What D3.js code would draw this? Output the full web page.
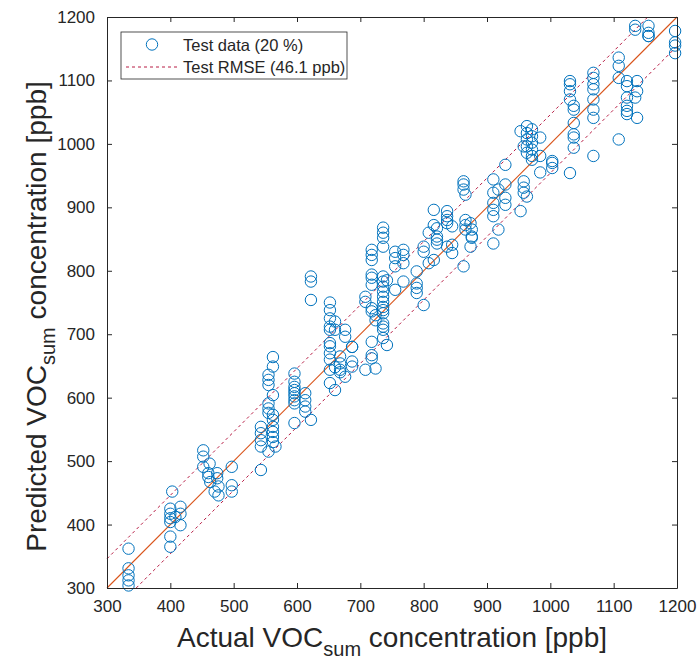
<!DOCTYPE html>
<html lang="en">
<head>
<meta charset="UTF-8"/>
<title>Predicted vs actual VOC</title>
<script type="text/javascript" src="https://d3js.org/d3.v7.min.js"></script>
<style>
    body { margin: 0; background: #fff; }
    text { font-family: "Liberation Sans", Arial, Helvetica, sans-serif; fill: #262626; }
</style>
</head>
<body>
<script type="text/javascript">

// actual (x) and predicted (y) values of the test points, read column by column
var actual = [
    334, 334, 334, 334, 334,
    403, 400, 400, 400, 400, 400, 400, 416, 416, 416, 408,
    452, 452, 452, 462, 460, 460, 463, 474, 474, 476, 476, 497, 497, 497, 470,
    543, 543, 543, 543, 543,
    555, 555, 555, 555, 555, 555, 555,
    562, 562, 562, 562, 562, 562, 562, 562, 562, 566,
    596, 596, 596, 596, 596, 596, 596, 596, 596,
    613, 613, 613, 613,
    622, 622, 622, 622,
    652, 652, 652, 652, 652, 652, 652, 652, 652, 652, 652,
    660, 660, 660, 660,
    668, 668, 668, 668,
    676, 676, 676,
    687, 687, 687, 687,
    708, 708, 708,
    718, 718, 718, 718, 718, 718, 718, 718, 718, 718, 718,
    724, 724, 724,
    736, 736, 736, 736, 736, 736, 736, 736, 736, 736, 736, 736, 736, 736, 736, 736, 736,
    742, 742,
    755, 755, 755, 755,
    768, 768, 768, 768,
    789, 789, 789, 789,
    800, 800, 800,
    808, 808,
    816, 816, 816,
    821, 821, 821, 821,
    837, 837, 837, 837, 837,
    845, 845, 845,
    863, 863, 863, 863,
    866, 866, 866, 866,
    874, 874, 876, 876, 876,
    910, 910, 910, 910, 910, 910,
    918, 918,
    929, 929, 929, 929,
    953, 953,
    958, 958, 958, 958,
    963, 963, 963, 963, 963, 963,
    971, 971, 971, 971, 971, 971,
    984, 984, 984,
    1003, 1003, 1003,
    1031, 1031, 1031, 1031, 1031,
    1037, 1037, 1037, 1037, 1037, 1037,
    1068, 1068, 1068, 1068, 1068, 1068, 1068, 1068,
    1108, 1108, 1108, 1108,
    1121, 1121, 1121, 1121, 1121, 1121,
    1137, 1137, 1137,
    1134, 1134, 1134,
    1155, 1155, 1155, 1155,
    1197, 1197, 1197, 1197
];
var predicted = [
    362, 331, 320, 312, 304,
    452, 425, 417, 410, 404, 381, 365, 428, 417, 399, 412,
    517, 491, 507, 496, 481, 475, 467, 473, 481, 460, 446, 452, 491, 462, 452, 486,
    554, 544, 533, 523, 515,
    636, 628, 620, 591, 583, 576, 565,
    664, 649, 604, 573, 554, 546, 538, 530, 523, 560,
    638, 625, 617, 612, 607, 602, 591, 596, 586,
    607, 596, 578, 565,
    791, 783, 754, 750,
    738, 725, 712, 707, 686, 681, 670, 660, 644, 623, 612,
    720, 707, 648, 640,
    665, 654, 644, 633,
    707, 696, 680,
    680, 657, 649, 644,
    759, 751, 736,
    833, 825, 817, 794, 789, 778, 741, 688, 667, 662, 646,
    730, 722, 712,
    868, 860, 852, 838, 791, 783, 775, 767, 759, 751, 743, 738, 733, 717, 707, 694, 683,
    785, 770,
    830, 820, 807, 783,
    833, 825, 812, 799,
    780, 773, 765, 746,
    838, 830, 812,
    860, 817,
    896, 872, 867,
    854, 849, 843, 838,
    894, 886, 880, 875, 870,
    841, 828, 807,
    941, 936, 928, 920,
    880, 872, 865, 838,
    875, 852, 865, 854, 843,
    944, 923, 907, 896, 886, 865,
    928, 915,
    967, 936, 904, 894,
    1020, 996,
    941, 931, 923, 917,
    1028, 1017, 1007, 996, 986, 975,
    1023, 1012, 1002, 991, 981, 955,
    1010, 981, 970,
    973, 962, 954,
    1099, 1094, 1083, 1070, 1060,
    1054, 1033, 1015, 1010, 994, 981,
    1112, 1104, 1094, 1086, 1070, 1054, 1041, 1007,
    1136, 1123, 1104, 1099,
    1091, 1073, 1060, 1052, 1047, 1041,
    1099, 1083, 1073,
    1186, 1180, 1170,
    1186, 1175, 1170, 1143,
    1178, 1160, 1155, 1133
];
var ticks = [300, 400, 500, 600, 700, 800, 900, 1000, 1100, 1200];
var rmse = 46.1;
var legendLabels = ["Test data (20 %)", "Test RMSE (46.1 ppb)"];

var data = actual.map(function (a, i) { return [a, predicted[i]]; });

var W = 697, H = 663;
var margin = {top: 17, right: 20, bottom: 75, left: 107};
var width = W - margin.left - margin.right,
    height = H - margin.top - margin.bottom;

var x = d3.scaleLinear().domain([300, 1200]).range([0, width]);
var y = d3.scaleLinear().domain([300, 1200]).range([height, 0]);
var fmt = d3.format("d");
var rmseColor = "#B81D45";

var svg = d3.select("body").append("svg")
    .attr("width", W)
    .attr("height", H);

var main = svg.append("g")
    .attr("transform", "translate(" + margin.left + "," + margin.top + ")");

var plot = main.append("g");

// 1:1 line
plot.append("line")
    .attr("x1", x(300)).attr("y1", y(300))
    .attr("x2", x(1200)).attr("y2", y(1200))
    .attr("stroke", "#D95319")
    .attr("stroke-width", 1.1);

// +/- RMSE lines, cut to the axes box
var rmseLines = [
    [[300, 300 + rmse], [1200 - rmse, 1200]],
    [[300 + rmse, 300], [1200, 1200 - rmse]]
];
plot.selectAll("line.rmse")
    .data(rmseLines)
    .enter().append("line")
    .attr("class", "rmse")
    .attr("x1", function (d) { return x(d[0][0]); })
    .attr("y1", function (d) { return y(d[0][1]); })
    .attr("x2", function (d) { return x(d[1][0]); })
    .attr("y2", function (d) { return y(d[1][1]); })
    .attr("stroke", rmseColor)
    .attr("stroke-width", 1)
    .attr("stroke-dasharray", "3,3");

plot.selectAll("circle.pt")
    .data(data)
    .enter().append("circle")
    .attr("class", "pt")
    .attr("cx", function (d) { return x(d[0]); })
    .attr("cy", function (d) { return y(d[1]); })
    .attr("r", 5.7)
    .attr("fill", "none")
    .attr("stroke", "#0072BD")
    .attr("stroke-width", 1);

// axes, ticks pointing inside, box on all four sides
function styleAxis(g) {
    g.select(".domain").attr("stroke", "#262626");
    g.selectAll(".tick line").attr("stroke", "#262626");
    g.selectAll("text").attr("font-size", 17).attr("fill", "#262626")
        .attr("font-family", "'Liberation Sans', Arial, sans-serif");
}

main.append("g")
    .attr("transform", "translate(0," + height + ")")
    .call(d3.axisBottom(x).tickValues(ticks).tickFormat(fmt).tickSize(-5).tickPadding(12).tickSizeOuter(0))
    .call(styleAxis);

main.append("g")
    .call(d3.axisLeft(y).tickValues(ticks).tickFormat(fmt).tickSize(-5).tickPadding(12).tickSizeOuter(0))
    .call(styleAxis);

main.append("g")
    .call(d3.axisTop(x).tickValues(ticks).tickSize(-5).tickFormat("").tickSizeOuter(0))
    .call(styleAxis);

main.append("g")
    .attr("transform", "translate(" + width + ",0)")
    .call(d3.axisRight(y).tickValues(ticks).tickSize(-5).tickFormat("").tickSizeOuter(0))
    .call(styleAxis);

// axis titles with subscript
var xt = svg.append("text")
    .attr("x", margin.left + width / 2)
    .attr("y", 647)
    .attr("text-anchor", "middle")
    .attr("font-size", 28);
xt.append("tspan").text("Actual VOC");
xt.append("tspan").attr("font-size", 20).attr("dy", 9).text("sum");
xt.append("tspan").attr("dy", -9).text(" concentration [ppb]");

var yt = svg.append("text")
    .attr("transform", "translate(46," + (margin.top + height / 2 + 14) + ") rotate(-90)")
    .attr("text-anchor", "middle")
    .attr("font-size", 28);
yt.append("tspan").text("Predicted VOC");
yt.append("tspan").attr("font-size", 20).attr("dy", 9).text("sum");
yt.append("tspan").attr("dy", -9).text(" concentration [ppb]");

// legend
var leg = svg.append("g");
leg.append("rect")
    .attr("x", 121).attr("y", 32)
    .attr("width", 226).attr("height", 47)
    .attr("fill", "#fff")
    .attr("stroke", "#262626")
    .attr("stroke-width", 0.8);
leg.append("circle")
    .attr("cx", 152).attr("cy", 44.5).attr("r", 5.7)
    .attr("fill", "none").attr("stroke", "#0072BD").attr("stroke-width", 1);
leg.append("line")
    .attr("x1", 126).attr("x2", 177).attr("y1", 67).attr("y2", 67)
    .attr("stroke", rmseColor).attr("stroke-dasharray", "3,3");
leg.selectAll("text.lab")
    .data(legendLabels)
    .enter().append("text")
    .attr("class", "lab")
    .attr("x", 183)
    .attr("y", function (d, i) { return 50.5 + i * 22.5; })
    .attr("font-size", 16.5)
    .text(function (d) { return d; });

</script>
</body>
</html>
